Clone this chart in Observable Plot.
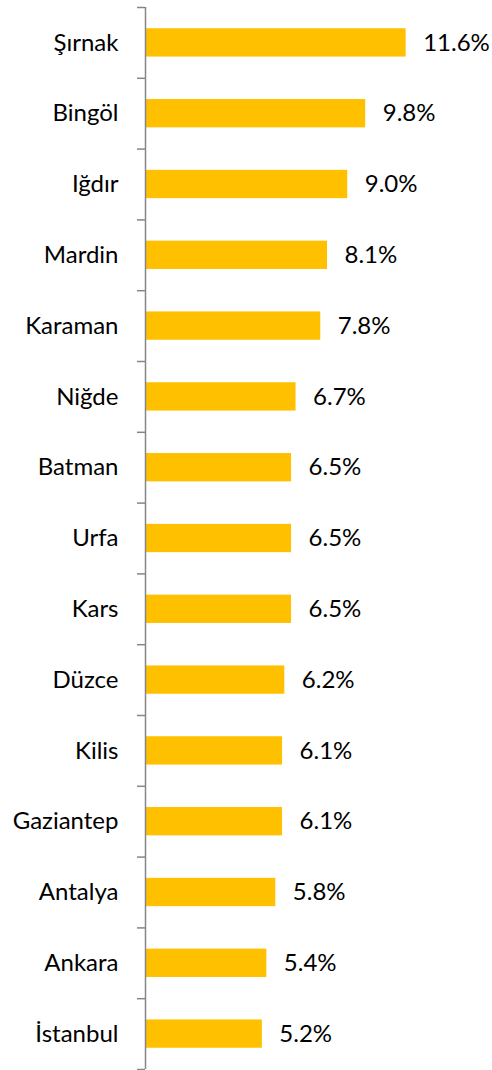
<!DOCTYPE html>
<html>
<head>
<meta charset="utf-8">
<script src="https://cdn.jsdelivr.net/npm/d3@7"></script>
<script src="https://cdn.jsdelivr.net/npm/@observablehq/plot@0.6"></script>
<style>
  html, body { margin: 0; padding: 0; background: #fff; }
  svg { display: block; }
</style>
</head>
<body>
<div id="chart"></div>
<script>
const provinces = ["Şırnak","Bingöl","Iğdır","Mardin","Karaman","Niğde","Batman","Urfa","Kars","Düzce","Kilis","Gaziantep","Antalya","Ankara","İstanbul"];
const rates = [11.6, 9.8, 9.0, 8.1, 7.8, 6.7, 6.5, 6.5, 6.5, 6.2, 6.1, 6.1, 5.8, 5.4, 5.2];
const labels = ["11.6%","9.8%","9.0%","8.1%","7.8%","6.7%","6.5%","6.5%","6.5%","6.2%","6.1%","6.1%","5.8%","5.4%","5.2%"];

const data = provinces.map((p, i) => ({province: p, rate: rates[i], label: labels[i]}));

const W = 492, H = 1070, mTop = 7, mBottom = 1, mLeft = 145;
const pxPerUnit = 22.47;
const xMax = 14;
const mRight = W - mLeft - xMax * pxPerUnit;
const band = (H - mTop - mBottom) / provinces.length;
const font = "Lato, 'Open Sans', sans-serif";
const fs = 24;

const chart = Plot.plot({
  width: W,
  height: H,
  marginTop: mTop,
  marginBottom: mBottom,
  marginLeft: mLeft,
  marginRight: mRight,
  style: {fontFamily: font, fontSize: fs + "px", color: "#000", background: "#fff", overflow: "visible"},
  x: {domain: [0, xMax], axis: null},
  y: {domain: provinces, paddingInner: 0.6, paddingOuter: 0.3, align: 0.5, round: false, label: null},
  marks: [
    Plot.barX(data, {x: "rate", y: "province", fill: "#FFC000"}),
    Plot.text(data, {x: "rate", y: "province", text: "label", textAnchor: "start", dx: 17, fontSize: fs, fill: "#000", fontFamily: font}),
    Plot.axisY({tickSize: 0, tickPadding: 27, fontSize: fs, fill: "#000", label: null, fontFamily: font}),
    Plot.ruleX([0], {stroke: "#868686", strokeWidth: 1.5}),
    Plot.ruleY(provinces, {y: d => d, x1: -8 / pxPerUnit, x2: 0, dy: -band / 2, stroke: "#868686", strokeWidth: 1.5, clip: false}),
    Plot.ruleY([provinces[provinces.length - 1]], {y: d => d, x1: -8 / pxPerUnit, x2: 0, dy: band / 2, stroke: "#868686", strokeWidth: 1.5, clip: false})
  ]
});
document.getElementById("chart").appendChild(chart);
</script>
</body>
</html>
